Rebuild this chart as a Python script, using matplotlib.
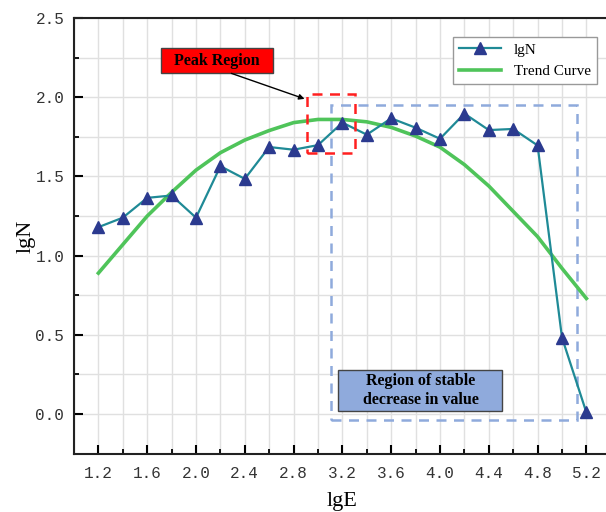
import matplotlib
matplotlib.use("Agg")
from matplotlib import pyplot as plt
from matplotlib.patches import Rectangle
from matplotlib.ticker import FixedLocator, MultipleLocator

plt.rcParams['font.family'] = ['Liberation Serif', 'DejaVu Serif']

# data
lgE = [1.2, 1.4, 1.6, 1.8, 2.0, 2.2, 2.4, 2.6, 2.8, 3.0, 3.2,
       3.4, 3.6, 3.8, 4.0, 4.2, 4.4, 4.6, 4.8, 5.0, 5.2]
lgN = [1.18, 1.24, 1.365, 1.38, 1.24, 1.565, 1.485, 1.686, 1.669, 1.698, 1.84,
       1.764, 1.867, 1.808, 1.738, 1.897, 1.793, 1.80, 1.696, 0.483, 0.01]
trend = [0.89, 1.07, 1.25, 1.40, 1.54, 1.65, 1.73, 1.79, 1.84, 1.86, 1.86,
         1.845, 1.81, 1.755, 1.685, 1.575, 1.44, 1.28, 1.12, 0.92, 0.73]
x_ticks = [1.2, 1.6, 2.0, 2.4, 2.8, 3.2, 3.6, 4.0, 4.4, 4.8, 5.2]
x_labels = ['1.2', '1.6', '2.0', '2.4', '2.8', '3.2', '3.6', '4.0', '4.4', '4.8', '5.2']
y_ticks = [0.0, 0.5, 1.0, 1.5, 2.0, 2.5]
y_labels = ['0.0', '0.5', '1.0', '1.5', '2.0', '2.5']

fig = plt.figure(figsize=(6.06, 5.12), dpi=100)
ax = fig.add_axes([0.1221, 0.1139, 0.8858, 0.8508])

ax.plot(lgE, lgN, color='#1f8a96', lw=1.6, marker='^', markersize=8,
        markerfacecolor='#2b3a8f', markeredgecolor='#2b3a8f', label='lgN', zorder=4)
ax.plot(lgE, trend, color='#4fc45a', lw=2.6, label='Trend Curve', zorder=3,
        solid_joinstyle='round')

ax.set_xlim(1.0, 5.4)
ax.set_ylim(-0.25, 2.5)

ax.xaxis.set_major_locator(FixedLocator(x_ticks))
ax.set_xticklabels(x_labels, fontfamily='Liberation Mono', fontsize=11.5, color='#333333')
ax.xaxis.set_minor_locator(FixedLocator([1.0 + 0.2 * i for i in range(23)]))
ax.yaxis.set_major_locator(FixedLocator(y_ticks))
ax.set_yticklabels(y_labels, fontfamily='Liberation Mono', fontsize=11.5, color='#333333')
ax.yaxis.set_minor_locator(MultipleLocator(0.25))

ax.tick_params(which='major', direction='in', length=6.5, width=1.5)
ax.tick_params(axis='x', which='major', pad=9)
ax.tick_params(axis='y', which='major', pad=7)
ax.tick_params(which='minor', direction='in', length=3.5, width=1.3)

ax.grid(True, which='both', color='#e0e0e0', lw=1.0, zorder=0)
ax.set_axisbelow(True)
for side in ['left', 'bottom', 'top']:
    ax.spines[side].set_linewidth(1.5)
    ax.spines[side].set_color('#222222')
ax.spines['right'].set_visible(False)

ax.set_xlabel('lgE', fontsize=16, labelpad=8)
ax.set_ylabel('lgN', fontsize=16, labelpad=0)

# peak region box, label and arrow
ax.add_patch(Rectangle((2.91, 1.65), 0.39, 0.37, fill=False, ec='#ff2020',
                       lw=1.8, ls=(0, (4, 3)), zorder=5))
ax.add_patch(Rectangle((1.714, 2.151), 0.915, 0.158, fc='#ff0000', ec='#444444',
                       lw=1, zorder=5))
ax.text(2.17, 2.23, 'Peak Region', ha='center', va='center', fontsize=11.5,
        fontweight='bold', zorder=6)
ax.annotate('', xy=(2.89, 1.99), xytext=(2.29, 2.151),
            arrowprops=dict(arrowstyle='-|>', color='black', lw=1,
                            mutation_scale=8, shrinkA=0, shrinkB=0), zorder=6)

# stable decrease box and label
ax.add_patch(Rectangle((3.107, -0.04), 2.02, 1.99, fill=False, ec='#8faadc',
                       lw=1.8, ls=(0, (4, 3)), zorder=2))
ax.add_patch(Rectangle((3.167, 0.0215), 1.344, 0.2575, fc='#8faadc', ec='#444444',
                       lw=1, zorder=5))
ax.text(3.84, 0.152, 'Region of stable\ndecrease in value', ha='center', va='center',
        fontsize=11.5, fontweight='bold', linespacing=1.25, zorder=6)

ax.legend(loc='upper right', bbox_to_anchor=(0.974, 0.957), borderaxespad=0,
          fancybox=False, edgecolor='#999999', fontsize=11, numpoints=1,
          handlelength=2.8, framealpha=1)

fig.savefig('out.png', dpi=100)
